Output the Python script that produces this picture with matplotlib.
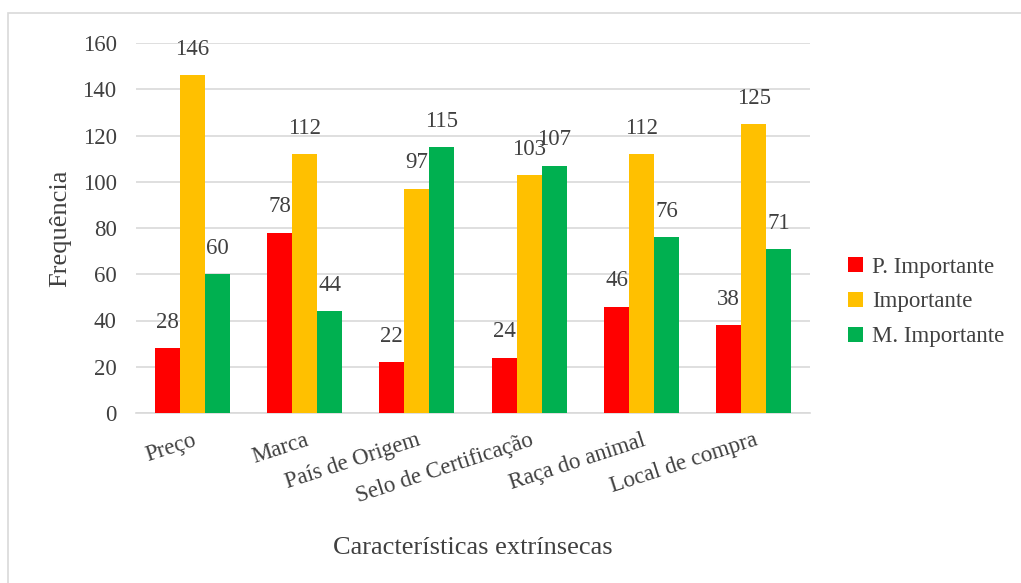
import matplotlib
matplotlib.use("Agg")
import matplotlib.pyplot as plt
import numpy as np
from matplotlib.patches import Rectangle

categories = ["Preço", "Marca", "País de Origem", "Selo de Certificação", "Raça do animal", "Local de compra"]
series_names = ["P. Importante", "Importante", "M. Importante"]
p_importante = [28, 78, 22, 24, 46, 38]
importante = [146, 112, 97, 103, 112, 125]
m_importante = [60, 44, 115, 107, 76, 71]
colors = ["#FF0000", "#FFC000", "#00B050"]
yticks = [0, 20, 40, 60, 80, 100, 120, 140, 160]

plt.rcParams['font.family'] = ['Liberation Serif', 'DejaVu Serif']
txt = "#404040"
fs = 16.5

fig = plt.figure(figsize=(10.21, 5.83), dpi=100)
ax = fig.add_axes([136/1021, 1-413/583, (810-136)/1021, (413-43)/583])

x = np.arange(len(categories))
w = 0.223
for i, (vals, name, c) in enumerate(zip([p_importante, importante, m_importante], series_names, colors)):
    bars = ax.bar(x + (i-1)*w, vals, w, color=c, label=name, zorder=3)
    for b, v in zip(bars, vals):
        ax.annotate(str(v), (b.get_x()+b.get_width()/2, v), xytext=(0, 11), textcoords="offset points",
                    ha="center", va="bottom", fontsize=fs, color=txt)

ax.set_xlim(-0.5, len(categories)-0.5)
ax.set_ylim(0, 160)
ax.set_yticks(yticks)
ax.yaxis.grid(True, color="#d9d9d9", linewidth=1.2, zorder=0)
ax.set_axisbelow(True)
for s in ["top", "right", "left"]:
    ax.spines[s].set_visible(False)
ax.spines["bottom"].set_color("#d9d9d9")
ax.spines["bottom"].set_linewidth(1.2)
ax.tick_params(axis="both", length=0, labelsize=fs, labelcolor=txt)
ax.tick_params(axis="y", pad=14)
ax.set_xticks(x)
ax.set_xticklabels(categories, rotation=18, ha="right", rotation_mode="anchor")
ax.tick_params(axis="x", pad=12)

ax.set_ylabel("Frequência", fontsize=19, color=txt, labelpad=8)
ax.set_xlabel("Características extrínsecas", fontsize=19, color=txt, labelpad=22)

leg = ax.legend(loc="center left", bbox_to_anchor=(1.043, 0.30), frameon=False, fontsize=fs,
                handlelength=0.65, handleheight=0.65, handletextpad=0.4, labelspacing=0.6, borderaxespad=0)
for t in leg.get_texts():
    t.set_color(txt)

fig.patches.append(Rectangle((8/1021, -0.1), 1.2, (583-13)/583 + 0.1, transform=fig.transFigure,
                             fill=False, edgecolor="#d9d9d9", linewidth=1.2))

fig.savefig("out.png", dpi=100)
